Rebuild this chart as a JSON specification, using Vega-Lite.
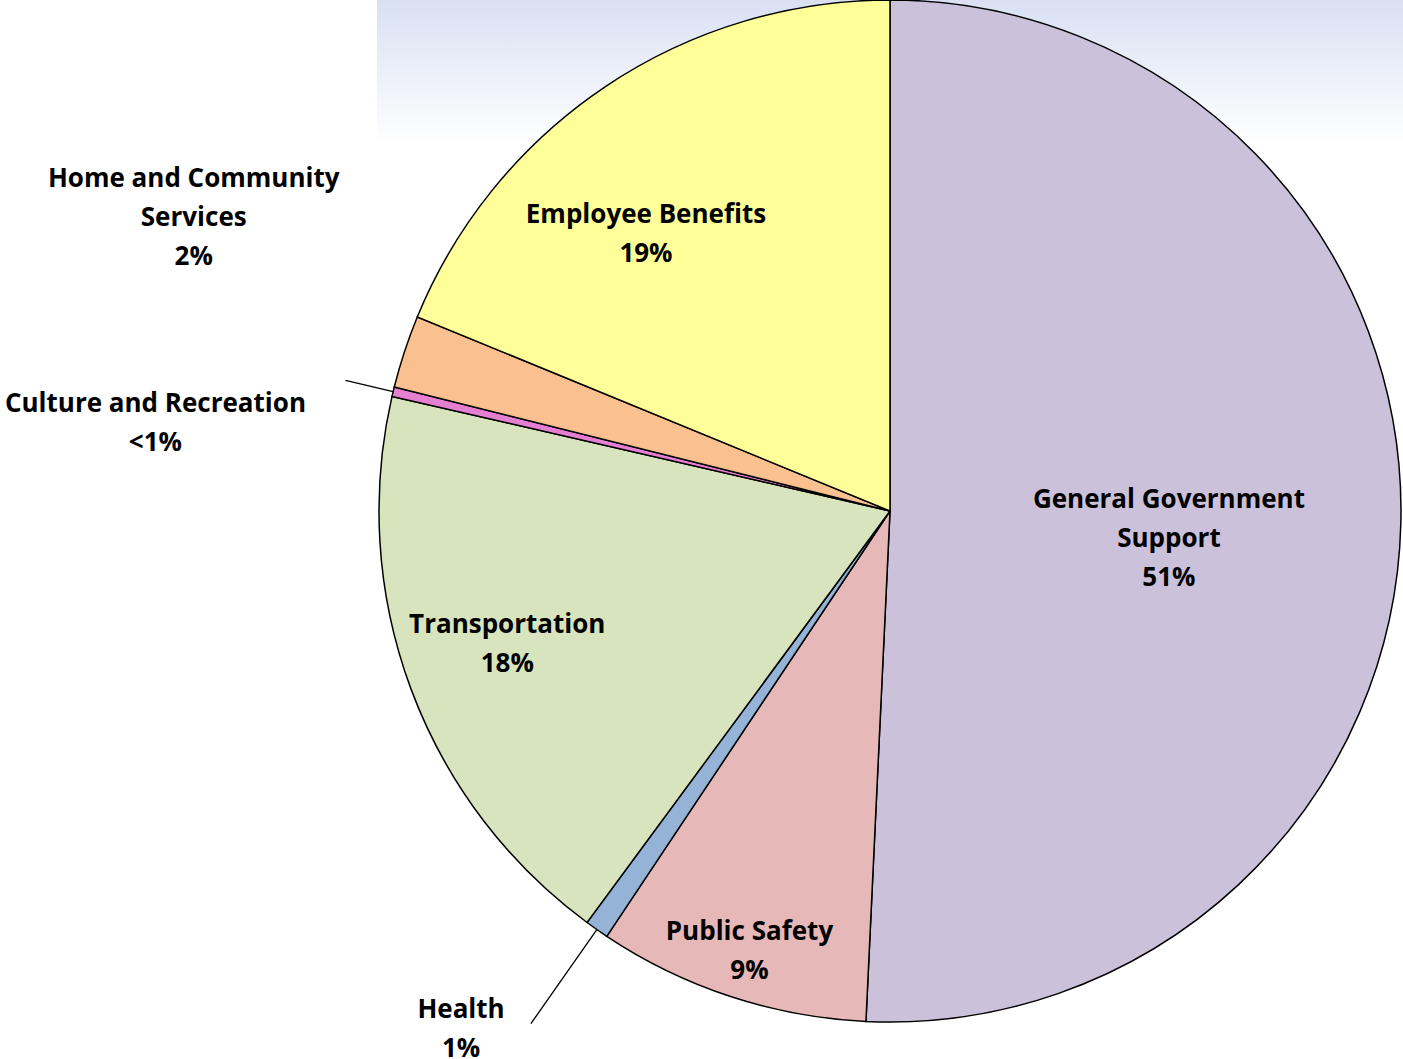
{
  "$schema": "https://vega.github.io/schema/vega-lite/v6.json",
  "autosize": {"type": "none"},
  "width": 1026,
  "height": 1022,
  "padding": {"left": 377, "top": 0, "right": 0, "bottom": 37},
  "background": "#ffffff",
  "view": {"stroke": null},
  "config": {
    "text": {"font": "Open Sans", "fontWeight": "bold", "fontSize": 26, "lineHeight": 39, "align": "center", "baseline": "middle", "lineBreak": "\n", "color": "#000000"}
  },
  "data": {
    "values": [
      {"cat": "General Government Support", "label": "General Government\nSupport\n51%", "value": 50.75, "ord": 1},
      {"cat": "Public Safety", "label": "Public Safety\n9%", "value": 8.6, "ord": 2},
      {"cat": "Health", "label": "Health\n1%", "value": 0.75, "ord": 3},
      {"cat": "Transportation", "label": "Transportation\n18%", "value": 18.5, "ord": 4},
      {"cat": "Culture and Recreation", "label": "Culture and Recreation\n<1%", "value": 0.3, "ord": 5},
      {"cat": "Home and Community Services", "label": "Home and Community\nServices\n2%", "value": 2.3, "ord": 6},
      {"cat": "Employee Benefits", "label": "Employee Benefits\n19%", "value": 18.8, "ord": 7}
    ]
  },
  "encoding": {
    "theta": {"field": "value", "type": "quantitative", "stack": true},
    "order": {"field": "ord", "type": "quantitative"}
  },
  "layer": [
    {
      "data": {"values": [{"bg": 1}]},
      "mark": {
        "type": "rect",
        "fill": {
          "gradient": "linear", "x1": 0, "y1": 0, "x2": 0, "y2": 1,
          "stops": [
            {"offset": 0, "color": "#d8e0f2"},
            {"offset": 0.14, "color": "#ffffff"},
            {"offset": 1, "color": "#ffffff"}
          ]
        }
      },
      "encoding": {"theta": null, "order": null}
    },
    {
      "mark": {"type": "arc", "radius": 511, "stroke": "#000000", "strokeWidth": 1.5},
      "encoding": {
        "color": {
          "field": "cat", "type": "nominal", "legend": null,
          "scale": {
            "domain": ["General Government Support", "Public Safety", "Health", "Transportation", "Culture and Recreation", "Home and Community Services", "Employee Benefits"],
            "range": ["#ccc1da", "#e6b9b8", "#95b3d7", "#d7e4bd", "#e47fd2", "#fac090", "#ffff99"]
          }
        }
      }
    },
    {
      "mark": {"type": "arc", "radius": 560, "radius2": 511, "padAngle": 3, "fill": "transparent", "stroke": "#000000", "strokeWidth": 1.3},
      "encoding": {"strokeOpacity": {"condition": {"test": "datum.cat === 'Culture and Recreation'", "value": 1}, "value": 0}}
    },
    {
      "mark": {"type": "arc", "radius": 626, "radius2": 511, "padAngle": 3, "fill": "transparent", "stroke": "#000000", "strokeWidth": 1.3},
      "encoding": {"strokeOpacity": {"condition": {"test": "datum.cat === 'Health'", "value": 1}, "value": 0}}
    },
    {
      "mark": {"type": "text", "radius": 279, "dy": -18},
      "encoding": {"text": {"condition": {"test": "datum.cat === 'General Government Support'", "field": "label"}, "value": ""}}
    },
    {
      "mark": {"type": "text", "radius": 460, "dx": 3, "dy": -16},
      "encoding": {"text": {"condition": {"test": "datum.cat === 'Public Safety'", "field": "label"}, "value": ""}}
    },
    {
      "mark": {"type": "text", "radius": 671, "dx": -44, "dy": -51},
      "encoding": {"text": {"condition": {"test": "datum.cat === 'Health'", "field": "label"}, "value": ""}}
    },
    {
      "mark": {"type": "text", "radius": 405, "dx": -3, "dy": -27},
      "encoding": {"text": {"condition": {"test": "datum.cat === 'Transportation'", "field": "label"}, "value": ""}}
    },
    {
      "mark": {"type": "text", "radius": 740, "dx": -15, "dy": 66},
      "encoding": {"text": {"condition": {"test": "datum.cat === 'Culture and Recreation'", "field": "label"}, "value": ""}}
    },
    {
      "mark": {"type": "text", "radius": 756, "dx": 22, "dy": -96},
      "encoding": {"text": {"condition": {"test": "datum.cat === 'Home and Community Services'", "field": "label"}, "value": ""}}
    },
    {
      "mark": {"type": "text", "radius": 370, "dx": -38, "dy": 11},
      "encoding": {"text": {"condition": {"test": "datum.cat === 'Employee Benefits'", "field": "label"}, "value": ""}}
    }
  ]
}
